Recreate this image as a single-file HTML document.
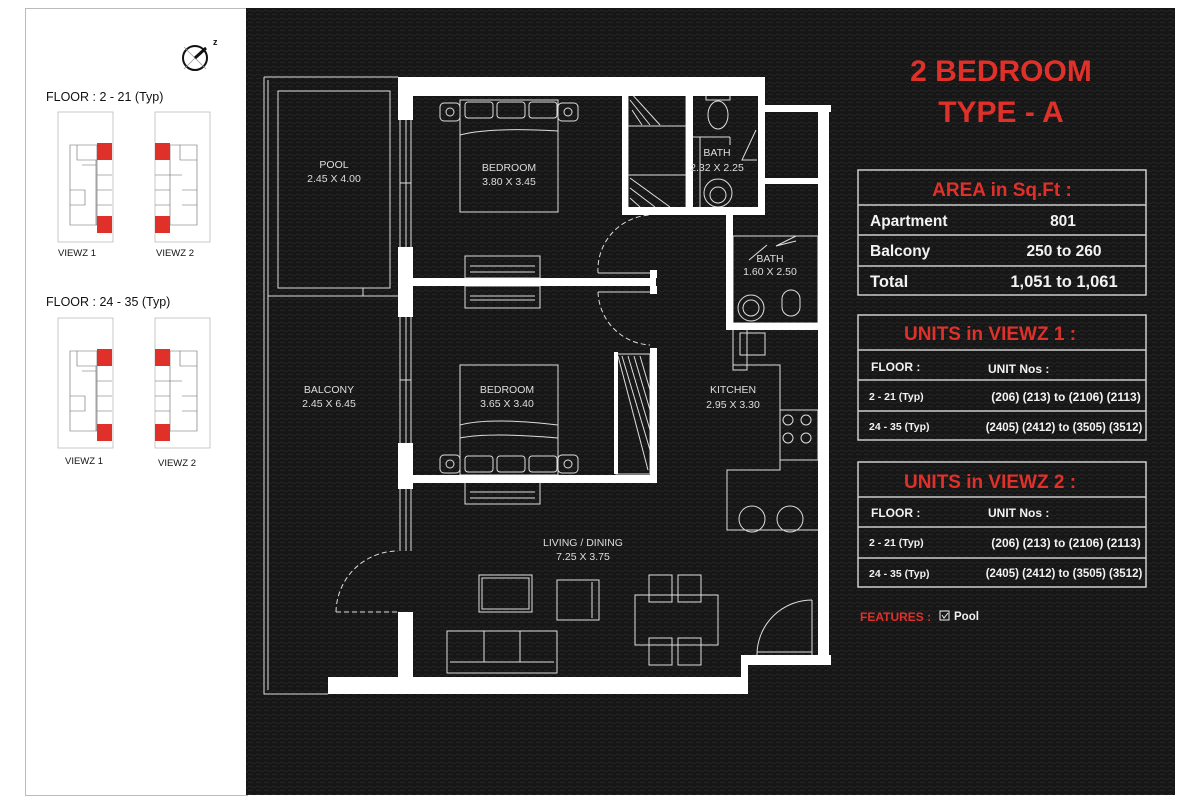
<!DOCTYPE html>
<html><head><meta charset="utf-8"><style>
body{margin:0;background:#fff;width:1196px;height:805px;overflow:hidden;font-family:"Liberation Sans",sans-serif}
svg{position:absolute;left:0;top:0}
</style></head><body>
<svg width="1196" height="805" viewBox="0 0 1196 805" xmlns="http://www.w3.org/2000/svg" font-family="Liberation Sans, sans-serif">
<defs>
<pattern id="lea" width="8" height="8" patternUnits="userSpaceOnUse">
<rect width="8" height="8" fill="#161616"/>
<path d="M0 3 Q2 1 4 3 T8 3 M0 7 Q3 5 5 7" stroke="#2a2a2a" stroke-width="0.7" fill="none"/>
</pattern>
</defs>
<rect x="25.5" y="8.5" width="222" height="787" fill="#fff" stroke="#bbb"/>
<circle cx="195" cy="58" r="12" fill="none" stroke="#111" stroke-width="2"/>
<line x1="184" y1="47" x2="206" y2="69" stroke="#999" stroke-width="0.8"/>
<line x1="184" y1="69" x2="206" y2="47" stroke="#999" stroke-width="0.8"/>
<line x1="195" y1="58" x2="206" y2="48" stroke="#111" stroke-width="3"/>
<text x="213" y="45" font-size="9" font-weight="bold" fill="#111">z</text>
<g font-size="12.5" fill="#111">
<text x="46" y="101">FLOOR : 2 - 21 (Typ)</text>
<text x="46" y="306">FLOOR : 24 - 35 (Typ)</text>
</g>
<g font-size="9.5" fill="#111">
<text x="58" y="256">VIEWZ 1</text><text x="156" y="256">VIEWZ 2</text>
<text x="65" y="464">VIEWZ 1</text><text x="158" y="466">VIEWZ 2</text>
</g>
<g fill="none" stroke="#bbb" stroke-width="0.8">
<rect x="58" y="112" width="55" height="130"/><rect x="155" y="112" width="55" height="130"/>
<rect x="58" y="318" width="55" height="130"/><rect x="155" y="318" width="55" height="130"/>
</g>
<g fill="none" stroke="#666" stroke-width="0.6">
<path d="M70 145h27v80h-27zM77 145v15h20M70 190h15v15h-15M96 160v65M82 165h14M97 175h15M97 190h15M97 205h15"/>
<path d="M170 145h27v80h-27zM180 145v15h17M182 190h15v15h-15M170 160v65M170 175h12M155 175h15M155 190h15M155 205h15"/>
<path d="M70 351h27v80h-27zM77 351v15h20M70 396h15v15h-15M96 366v65M82 371h14M97 381h15M97 396h15M97 411h15"/>
<path d="M170 351h27v80h-27zM180 351v15h17M182 396h15v15h-15M170 366v65M170 381h12M155 381h15M155 396h15M155 411h15"/>
</g>
<g fill="#e0302a">
<rect x="97" y="143" width="15" height="17"/><rect x="97" y="216" width="15" height="17"/>
<rect x="155" y="143" width="15" height="17"/><rect x="155" y="216" width="15" height="17"/>
<rect x="97" y="349" width="15" height="17"/><rect x="97" y="424" width="15" height="17"/>
<rect x="155" y="349" width="15" height="17"/><rect x="155" y="424" width="15" height="17"/>
</g>
<rect x="246" y="8" width="929" height="787" fill="url(#lea)"/>

<g fill="none" stroke="#ddd" stroke-width="1">
<path d="M264 77H398M264 77V694H328M268 80V690"/>
<rect x="278" y="91" width="112" height="197"/>
<path d="M268 296H398M363 288V296"/>
<path d="M400 120V247M406 120V247M411 120V247M400 183h11"/>
<path d="M400 317V443M406 317V443M411 317V443M400 380h11"/>
<path d="M400 489V551M406 489V551M411 489V551"/>
<path d="M336 612H398M336 612A62 62 0 0 1 398 551" stroke-dasharray="5 3"/>
<path d="M598 273A55 55 0 0 1 650 215" stroke-dasharray="5 3"/>
<path d="M598 292A55 55 0 0 0 650 345" stroke-dasharray="5 3"/>
<path d="M598 273h52M598 292h52"/>
<path d="M545 89H622V96"/>
<rect x="628" y="89" width="58" height="120"/>
<path d="M628 126H686M628 175H686M686 137H700"/>
<path d="M630 89L684 89M630 92L660 125M630 100L650 125M632 110L642 125M630 178L670 207M630 188L655 207M630 198L640 207"/>
<path d="M700 137V209M700 137h30M730 137v8"/>
<path d="M756 130L742 160h15"/>
<rect x="706" y="92" width="24" height="8"/><ellipse cx="718" cy="115" rx="10" ry="14"/>
<circle cx="718" cy="193" r="14"/><circle cx="718" cy="195" r="8"/>
<rect x="733" y="236" width="85" height="87"/>
<path d="M733 236h58M767 245l-18 15M796 236l-20 10 20-5"/>
<circle cx="751" cy="308" r="13"/><circle cx="751" cy="308" r="8"/>
<rect x="782" y="290" width="18" height="26" rx="9"/>
<path d="M733 330v40h14v-40M733 365h47v105h-53v60h91M780 410h38v50h-38"/>
<rect x="740" y="333" width="25" height="22"/>
<circle cx="788" cy="420" r="5"/><circle cx="806" cy="420" r="5"/><circle cx="788" cy="438" r="5"/><circle cx="806" cy="438" r="5"/>
<circle cx="752" cy="519" r="13"/><circle cx="790" cy="519" r="13"/>
<path d="M757 665V655M812 600V655M757 655A55 55 0 0 1 812 600M757 652h55"/>
<rect x="616" y="354" width="34" height="120"/>
<path d="M618 356L648 470M622 356L650 450M628 356L650 430M634 356L650 410M640 356L650 390"/>
<rect x="460" y="100" width="98" height="112"/>
<path d="M460 135q30 -8 98 -4"/>
<rect x="440" y="103" width="20" height="18" rx="4"/><rect x="558" y="103" width="20" height="18" rx="4"/>
<circle cx="450" cy="112" r="4"/><circle cx="568" cy="112" r="4"/>
<rect x="465" y="102" width="28" height="16" rx="3"/><rect x="497" y="102" width="28" height="16" rx="3"/><rect x="529" y="102" width="28" height="16" rx="3"/>
<rect x="465" y="256" width="75" height="22"/><path d="M470 266h65M470 272h65"/>
<rect x="465" y="286" width="75" height="22"/><path d="M470 296h65M470 300h65"/>
<rect x="460" y="365" width="98" height="110"/>
<path d="M460 425q30 -8 98 0M460 438q30 -6 98 0"/>
<rect x="440" y="455" width="20" height="18" rx="4"/><rect x="558" y="455" width="20" height="18" rx="4"/>
<circle cx="450" cy="464" r="4"/><circle cx="568" cy="464" r="4"/>
<rect x="465" y="456" width="28" height="16" rx="3"/><rect x="497" y="456" width="28" height="16" rx="3"/><rect x="529" y="456" width="28" height="16" rx="3"/>
<rect x="465" y="482" width="75" height="22"/><path d="M470 492h65M470 498h65"/>
<rect x="479" y="575" width="53" height="37"/><rect x="482" y="578" width="47" height="31"/>
<rect x="557" y="580" width="42" height="40"/><path d="M592 582v36"/>
<rect x="447" y="631" width="110" height="42"/><path d="M450 662h104M484 631v31M520 631v31"/>
<rect x="635" y="595" width="83" height="50"/>
<rect x="649" y="575" width="23" height="27"/><rect x="678" y="575" width="23" height="27"/>
<rect x="649" y="638" width="23" height="27"/><rect x="678" y="638" width="23" height="27"/>
</g>

<g fill="#fff">
<rect x="398" y="77" width="367" height="19"/>
<rect x="758" y="77" width="7" height="138"/>
<rect x="758" y="105" width="73" height="7"/>
<rect x="818" y="105" width="11" height="560"/>
<rect x="398" y="77" width="15" height="43"/>
<rect x="398" y="247" width="15" height="70"/>
<rect x="398" y="443" width="15" height="46"/>
<rect x="398" y="612" width="15" height="82"/>
<rect x="328" y="677" width="420" height="17"/>
<rect x="741" y="655" width="7" height="39"/>
<rect x="741" y="655" width="90" height="10"/>
<rect x="413" y="278" width="243" height="8"/>
<rect x="650" y="270" width="7" height="8"/>
<rect x="650" y="286" width="7" height="8"/>
<rect x="413" y="475" width="244" height="8"/>
<rect x="650" y="348" width="7" height="135"/>
<rect x="614" y="352" width="4" height="122"/>
<rect x="622" y="89" width="6" height="126"/>
<rect x="622" y="207" width="143" height="8"/>
<rect x="686" y="89" width="7" height="126"/>
<rect x="758" y="178" width="60" height="6"/>
<rect x="726" y="215" width="7" height="115"/>
<rect x="726" y="323" width="92" height="7"/>
</g>

<g fill="#ddd" font-size="10.5" text-anchor="middle">
<text x="334" y="168">POOL</text><text x="334" y="182">2.45 X 4.00</text>
<text x="509" y="171">BEDROOM</text><text x="509" y="185">3.80 X 3.45</text>
<text x="717" y="156">BATH</text><text x="717" y="171">2.32 X 2.25</text>
<text x="770" y="262">BATH</text><text x="770" y="275">1.60 X 2.50</text>
<text x="329" y="393">BALCONY</text><text x="329" y="407">2.45 X 6.45</text>
<text x="507" y="393">BEDROOM</text><text x="507" y="407">3.65 X 3.40</text>
<text x="733" y="393">KITCHEN</text><text x="733" y="408">2.95 X 3.30</text>
<text x="583" y="546">LIVING / DINING</text><text x="583" y="560">7.25 X 3.75</text>
</g>

<g fill="#e0302a" font-weight="bold" font-size="30" text-anchor="middle">
<text x="1001" y="81">2 BEDROOM</text>
<text x="1001" y="122">TYPE - A</text>
</g>

<g fill="none" stroke="#ccc" stroke-width="1.5">
<rect x="858" y="170" width="288" height="125"/>
<path d="M858 205H1146M858 235H1146M858 266H1146"/>
<rect x="858" y="315" width="288" height="125"/>
<path d="M858 350H1146M858 380H1146M858 411H1146"/>
<rect x="858" y="462" width="288" height="125"/>
<path d="M858 497H1146M858 527H1146M858 558H1146"/>
</g>
<g font-family="Liberation Sans Narrow, Liberation Sans, sans-serif" font-weight="bold">
<g fill="#e0302a" font-size="19" text-anchor="middle">
<text x="1002" y="196">AREA in Sq.Ft :</text>
<text x="990" y="340">UNITS in VIEWZ 1 :</text>
<text x="990" y="488">UNITS in VIEWZ 2 :</text>
</g>
<g fill="#f2f2f2" font-size="15.5">
<text x="870" y="226">Apartment</text><text x="1063" y="226" text-anchor="middle">801</text>
<text x="870" y="256">Balcony</text><text x="1064" y="256" text-anchor="middle">250 to 260</text>
<text x="870" y="287" font-size="16.5">Total</text><text x="1064" y="287" text-anchor="middle" font-size="16.5">1,051 to 1,061</text>
</g>
<g fill="#f2f2f2" font-size="12">
<text x="871" y="371">FLOOR :</text><text x="988" y="373">UNIT Nos :</text>
<text x="869" y="400" font-size="10.5">2 - 21 (Typ)</text><text x="1066" y="401" text-anchor="middle" font-size="12">(206) (213) to (2106) (2113)</text>
<text x="869" y="430" font-size="10.5">24 - 35 (Typ)</text><text x="1064" y="431" text-anchor="middle" font-size="11.5">(2405) (2412) to (3505) (3512)</text>
<text x="871" y="517">FLOOR :</text><text x="988" y="517">UNIT Nos :</text>
<text x="869" y="546" font-size="10.5">2 - 21 (Typ)</text><text x="1066" y="547" text-anchor="middle" font-size="12">(206) (213) to (2106) (2113)</text>
<text x="869" y="577" font-size="10.5">24 - 35 (Typ)</text><text x="1064" y="577" text-anchor="middle" font-size="11.5">(2405) (2412) to (3505) (3512)</text>
</g>
<text x="860" y="621" fill="#e0302a" font-size="12">FEATURES :</text>
<rect x="940" y="611" width="9" height="9" fill="none" stroke="#eee"/>
<path d="M942 615l2 3 4-5" stroke="#eee" fill="none"/>
<text x="954" y="620" fill="#f2f2f2" font-size="11.5">Pool</text>
</g>
</svg>
</body></html>
